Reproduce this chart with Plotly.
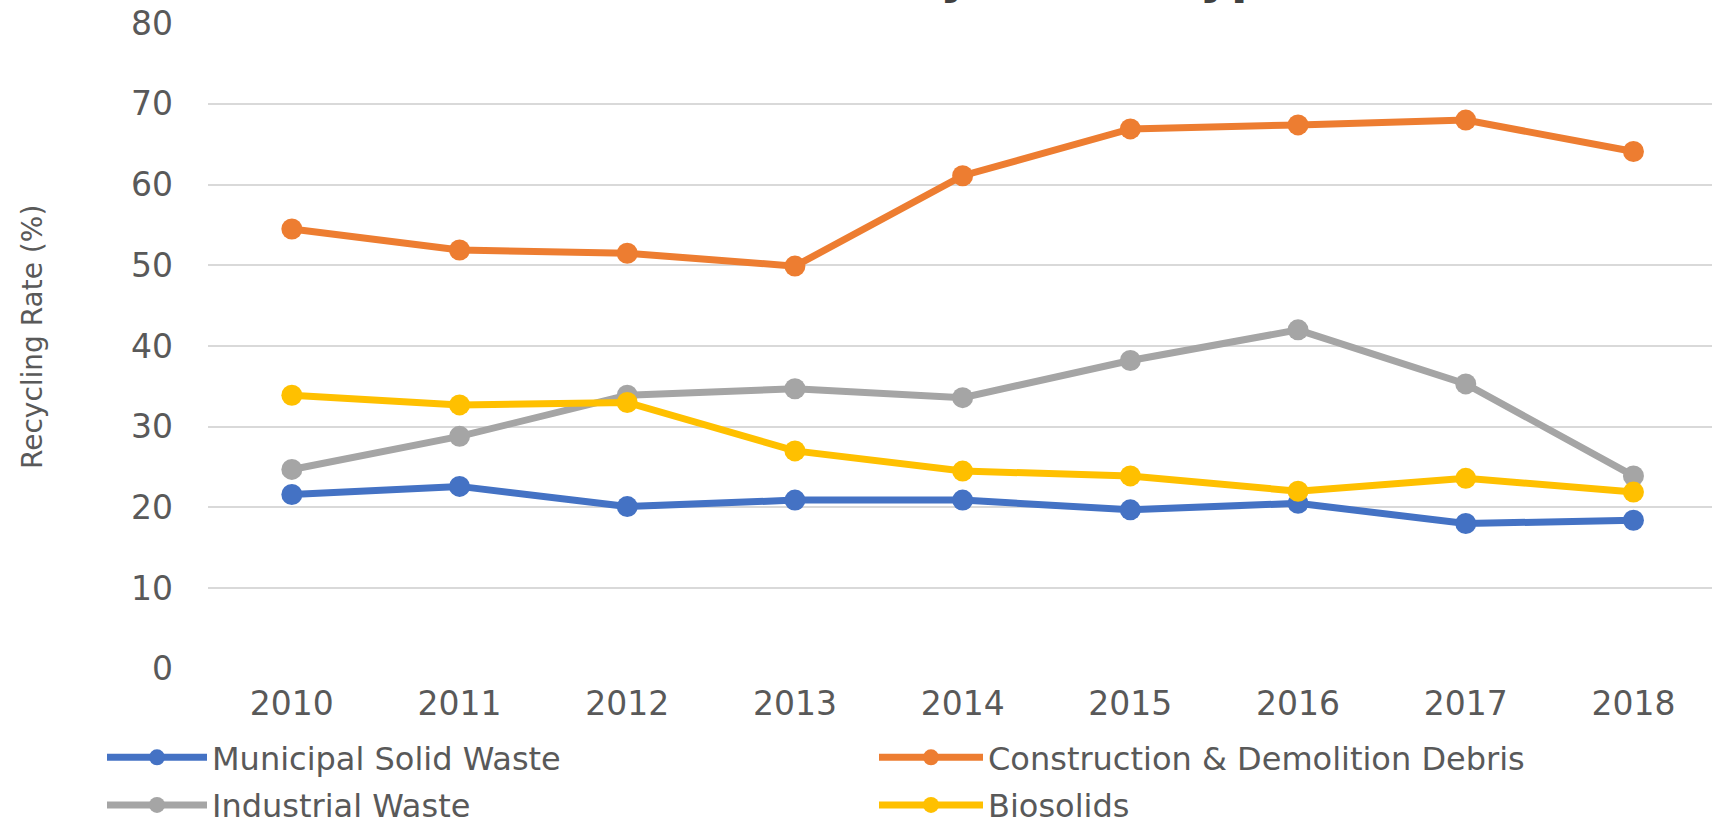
import plotly.graph_objects as go

years = ["2010", "2011", "2012", "2013", "2014", "2015", "2016", "2017", "2018"]
msw = [21.6, 22.6, 20.1, 20.9, 20.9, 19.7, 20.5, 18.0, 18.4]
cnd = [54.5, 51.9, 51.5, 49.9, 61.1, 66.9, 67.4, 68.0, 64.1]
industrial = [24.7, 28.8, 33.9, 34.7, 33.6, 38.2, 42.0, 35.3, 23.9]
biosolids = [33.9, 32.7, 33.0, 27.0, 24.5, 23.9, 22.0, 23.6, 21.9]
y_ticks = [0, 10, 20, 30, 40, 50, 60, 70, 80]

series = [
    ("Municipal Solid Waste", msw, "#4472C4", "legend"),
    ("Construction & Demolition Debris", cnd, "#ED7D31", "legend2"),
    ("Industrial Waste", industrial, "#A5A5A5", "legend"),
    ("Biosolids", biosolids, "#FFC000", "legend2"),
]

FONT = "DejaVu Sans"
TXT = "#595959"

fig = go.Figure()
for name, vals, color, lg in series:
    fig.add_trace(go.Scatter(
        x=years, y=vals, name=name, mode="lines+markers",
        line=dict(color=color, width=7),
        marker=dict(color=color, size=21),
        legend=lg, legendgroup=name,
    ))

W, H = 1712, 824
L, T, B = 208, 23, 155
plot_w = W - L
plot_h = H - T - B
spacing = 167.7
x_max = -0.5 + plot_w / spacing
pad = 0.03

fig.update_layout(
    width=W, height=H,
    margin=dict(l=L, r=0, t=T, b=B, autoexpand=False),
    paper_bgcolor="white", plot_bgcolor="white",
    font=dict(family=FONT, color=TXT, size=33),
    xaxis=dict(type="category", range=[-0.5, x_max], showgrid=False,
               showline=False, zeroline=False, ticks="",
               tickfont=dict(family=FONT, size=33, color=TXT),
               ticklabelstandoff=12),
    yaxis=dict(range=[-pad, 80 + pad], tickvals=y_ticks, showgrid=True,
               gridcolor="#D9D9D9", gridwidth=2, zeroline=False,
               showline=False, ticks="",
               tickfont=dict(family=FONT, size=33, color=TXT),
               ticklabelstandoff=34),
    legend=dict(xref="container", yref="container", x=102 / W, y=1 - 730 / H,
                xanchor="left", yanchor="top", orientation="v",
                font=dict(family=FONT, size=32, color=TXT), itemwidth=100,
                tracegroupgap=3, bgcolor="rgba(0,0,0,0)"),
    legend2=dict(xref="container", yref="container", x=874 / W, y=1 - 730 / H,
                 xanchor="left", yanchor="top", orientation="v",
                 font=dict(family=FONT, size=32, color=TXT), itemwidth=104,
                 tracegroupgap=3, bgcolor="rgba(0,0,0,0)"),
    showlegend=True,
)

# y-axis title
fig.add_annotation(
    text="Recycling Rate (%)", xref="paper", yref="paper",
    x=(33 - L) / plot_w, y=(H - B - 337) / plot_h,
    xanchor="center", yanchor="middle", textangle=-90, showarrow=False,
    font=dict(family=FONT, size=28, color=TXT),
)

# chart title (cut off at the top edge, as in the source image)
fig.add_annotation(
    text="Diversion Rates by Waste Type", xref="paper", yref="paper",
    x=(880 - L) / plot_w, y=1 + (T - 6) / plot_h,
    xanchor="center", yanchor="bottom", showarrow=False,
    font=dict(family="DejaVu Sans", size=48, color="#404040", weight="bold"),
)

fig.write_html("out.html", config={"displayModeBar": False},
               post_script="document.body.style.margin='0';")
